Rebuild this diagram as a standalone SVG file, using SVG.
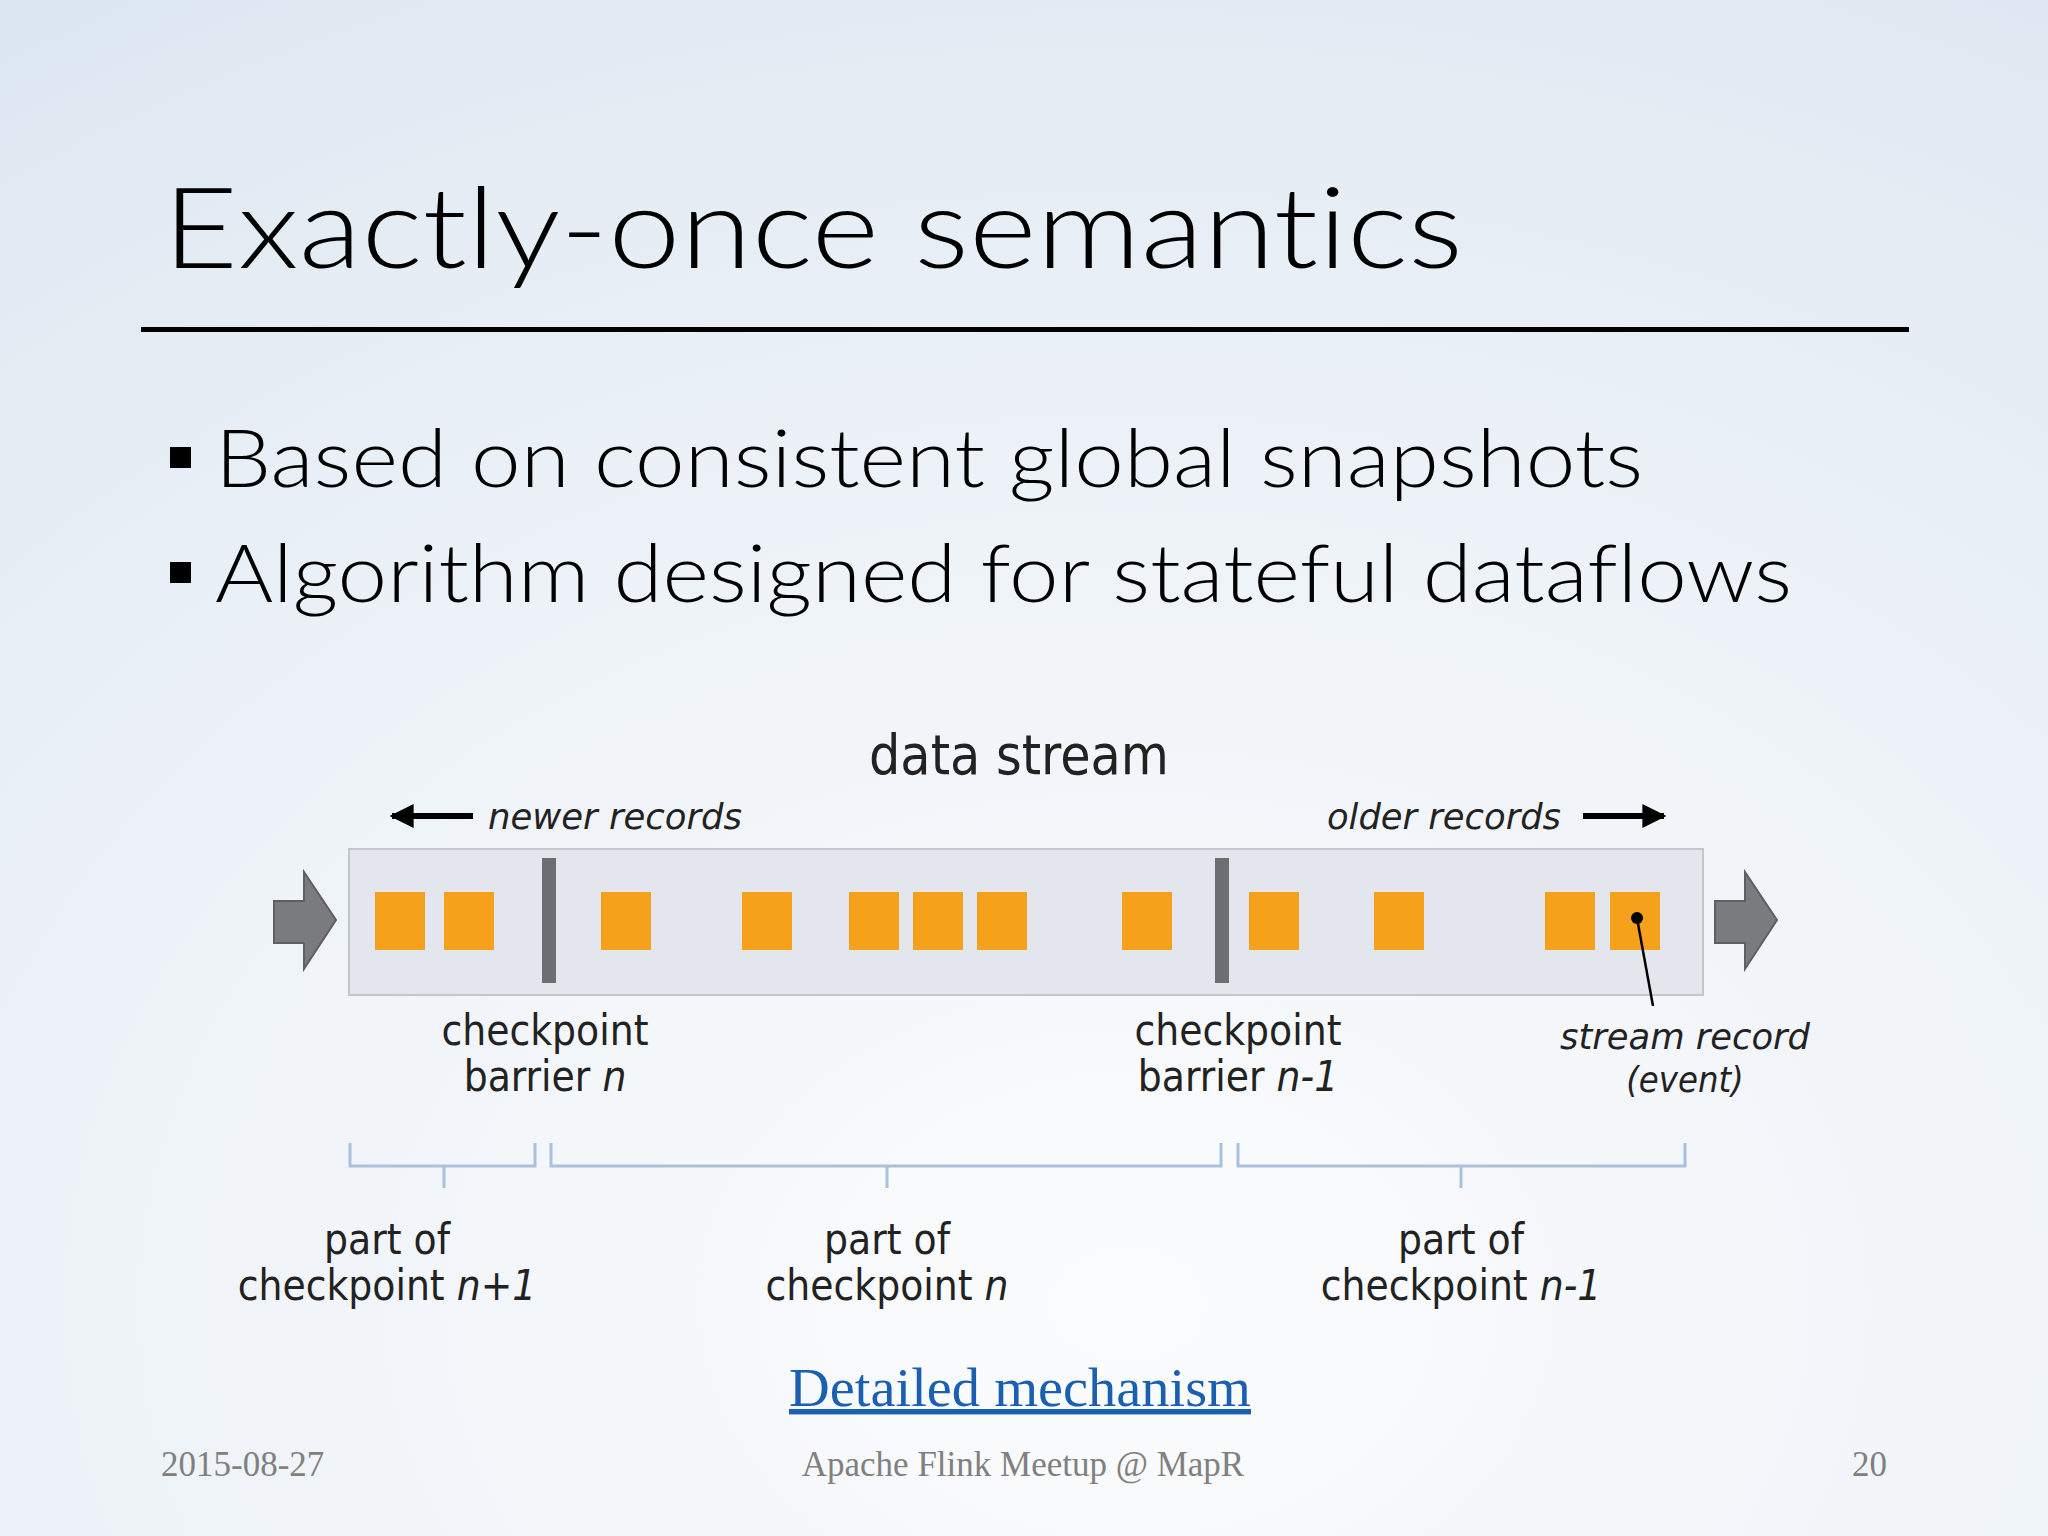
<svg xmlns="http://www.w3.org/2000/svg" width="2048" height="1536" viewBox="0 0 2048 1536">
<defs>
<radialGradient id="bg" cx="0.55" cy="0.85" r="1.0">
<stop offset="0" stop-color="#fbfcfd"/><stop offset="0.5" stop-color="#eef3f8"/><stop offset="1" stop-color="#dde7f1"/>
</radialGradient>
<marker id="ah" viewBox="0 0 10 10" refX="9" refY="5" markerWidth="4" markerHeight="4" orient="auto-start-reverse"><path d="M0,0 L10,5 L0,10 z" fill="#000"/></marker>
</defs>
<style>
.sq{fill:#f5a11c}
.bar{fill:#6d6e72}
.lbl{font-family:"DejaVu Sans Condensed","DejaVu Sans",sans-serif;font-size:42px;fill:#222;text-anchor:middle}
.it{font-style:italic}
.br{fill:none;stroke:#a9c1dc;stroke-width:3}
.ft{font-family:"Liberation Serif",serif;font-size:35px;fill:#808080}
</style>
<rect width="2048" height="1536" fill="url(#bg)"/>
<text x="163" y="268" font-family="Lato, 'Open Sans', sans-serif" font-size="112" font-weight="300" fill="#000" style="font-variant-ligatures:none" textLength="1300" lengthAdjust="spacingAndGlyphs">Exactly-once semantics</text>
<rect x="141" y="327" width="1768" height="5" fill="#000"/>
<rect x="170" y="447" width="21" height="21" fill="#000"/>
<rect x="170" y="562" width="21" height="21" fill="#000"/>
<g font-family="Lato, 'Open Sans', sans-serif" font-size="80" font-weight="300" fill="#000" style="font-variant-ligatures:none">
<text x="215" y="487" textLength="1428" lengthAdjust="spacingAndGlyphs">Based on consistent global snapshots</text>
<text x="215" y="602" textLength="1577" lengthAdjust="spacingAndGlyphs">Algorithm designed for stateful dataflows</text>
</g>
<g id="stream">
<text class="lbl" x="1019" y="774" fill="#222" style="font-size:56px;font-weight:500" textLength="300" lengthAdjust="spacingAndGlyphs">data stream</text>
<line x1="473" y1="816" x2="392" y2="816" stroke="#000" stroke-width="6" marker-end="url(#ah)"/>
<text class="lbl it" x="488" y="829" style="text-anchor:start;font-size:36px" textLength="254" lengthAdjust="spacingAndGlyphs">newer records</text>
<text class="lbl it" x="1561" y="829" style="text-anchor:end;font-size:36px" textLength="234" lengthAdjust="spacingAndGlyphs">older records</text>
<line x1="1583" y1="816" x2="1664" y2="816" stroke="#000" stroke-width="6" marker-end="url(#ah)"/>
<rect x="349" y="849" width="1354" height="146" fill="#e4e6ee" stroke="#c4c6cc" stroke-width="2"/>
<path d="M274,901 H304 V872 L336,920 L304,969 V943 H274 z" fill="#7a7b7e" stroke="#5e5f62" stroke-width="2"/>
<path d="M1715,901 H1745 V872 L1777,920 L1745,969 V943 H1715 z" fill="#7a7b7e" stroke="#5e5f62" stroke-width="2"/>
<rect class="sq" x="375" y="892" width="50" height="58"/>
<rect class="sq" x="444" y="892" width="50" height="58"/>
<rect class="sq" x="601" y="892" width="50" height="58"/>
<rect class="sq" x="742" y="892" width="50" height="58"/>
<rect class="sq" x="849" y="892" width="50" height="58"/>
<rect class="sq" x="913" y="892" width="50" height="58"/>
<rect class="sq" x="977" y="892" width="50" height="58"/>
<rect class="sq" x="1122" y="892" width="50" height="58"/>
<rect class="sq" x="1249" y="892" width="50" height="58"/>
<rect class="sq" x="1374" y="892" width="50" height="58"/>
<rect class="sq" x="1545" y="892" width="50" height="58"/>
<rect class="sq" x="1610" y="892" width="50" height="58"/>
<rect class="bar" x="542" y="858" width="14" height="125"/>
<rect class="bar" x="1215" y="858" width="14" height="125"/>
<circle cx="1637" cy="918" r="6" fill="#000"/>
<line x1="1637" y1="918" x2="1653" y2="1006" stroke="#000" stroke-width="2.5"/>
</g>
<g id="labels">
<text class="lbl" x="545" y="1045">checkpoint</text>
<text class="lbl" x="545" y="1091">barrier <tspan class="it">n</tspan></text>
<text class="lbl" x="1238" y="1045">checkpoint</text>
<text class="lbl" x="1238" y="1091">barrier <tspan class="it">n-1</tspan></text>
<text class="lbl it" x="1685" y="1049" style="font-size:36px" textLength="250" lengthAdjust="spacingAndGlyphs">stream record</text>
<text class="lbl it" x="1685" y="1092" style="font-size:36px">(event)</text>
</g>
<g id="brackets">
<path class="br" d="M350,1143 V1166 H535 V1143 M444,1166 V1188"/>
<path class="br" d="M551,1143 V1166 H1221 V1143 M887,1166 V1188"/>
<path class="br" d="M1238,1143 V1166 H1685 V1143 M1461,1166 V1188"/>
<text class="lbl" x="387" y="1254">part of</text>
<text class="lbl" x="387" y="1300">checkpoint <tspan class="it">n+1</tspan></text>
<text class="lbl" x="887" y="1254">part of</text>
<text class="lbl" x="887" y="1300">checkpoint <tspan class="it">n</tspan></text>
<text class="lbl" x="1461" y="1254">part of</text>
<text class="lbl" x="1461" y="1300">checkpoint <tspan class="it">n-1</tspan></text>
</g>
<text x="1020" y="1406" font-family="Liberation Serif, serif" font-size="54" fill="#1b5fb0" text-anchor="middle" text-decoration="underline" textLength="462" lengthAdjust="spacingAndGlyphs">Detailed mechanism</text>
<text class="ft" x="161" y="1476">2015-08-27</text>
<text class="ft" x="1023" y="1476" text-anchor="middle">Apache Flink Meetup @ MapR</text>
<text class="ft" x="1887" y="1476" text-anchor="end">20</text>
</svg>
